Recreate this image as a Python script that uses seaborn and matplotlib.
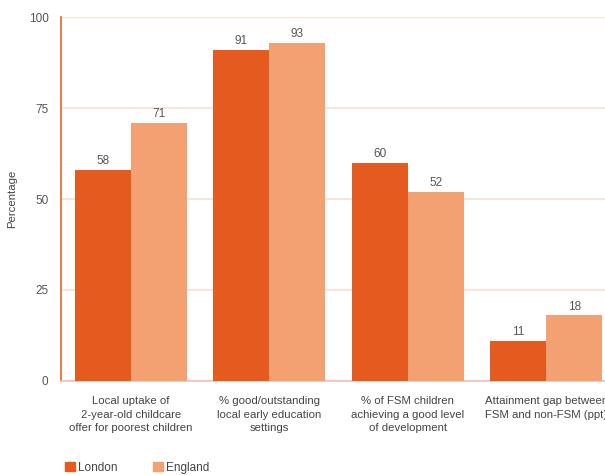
import matplotlib
matplotlib.use("Agg")
import matplotlib.pyplot as plt
import seaborn as sns
import pandas as pd

categories = [
    "Local uptake of\n2-year-old childcare\noffer for poorest children",
    "% good/outstanding\nlocal early education\nsettings",
    "% of FSM children\nachieving a good level\nof development",
    "Attainment gap between\nFSM and non-FSM (ppt)",
]
london = [58, 91, 60, 11]
england = [71, 93, 52, 18]
series = ["London", "England"]
yticks = [0, 25, 50, 75, 100]

df = pd.DataFrame({
    "category": categories * 2,
    "region": [series[0]] * len(categories) + [series[1]] * len(categories),
    "value": london + england,
})

sns.set_theme(style="white")
plt.rcParams["font.family"] = ["Liberation Sans", "DejaVu Sans"]

fig = plt.figure(figsize=(6.05, 4.75), dpi=100)
ax = fig.add_axes([0.101, 0.198, 0.916, 0.766])

palette = {"London": "#E55B1F", "England": "#F3A173"}
sns.barplot(data=df, x="category", y="value", hue="region", palette=palette,
            width=0.81, saturation=1, ax=ax, legend=False, zorder=3,
            linewidth=0)

for cont in ax.containers:
    ax.bar_label(cont, fmt="%d", padding=2, fontsize=8.5, color="#555555")

ax.set_ylim(0, 100)
ax.set_xlim(-0.506, 3.5)
ax.set_yticks(yticks)
ax.set_yticklabels([str(t) for t in yticks])
ax.yaxis.grid(True, color="#FCE3D7", linewidth=1.5, zorder=0)
ax.set_axisbelow(True)
ax.tick_params(axis="y", length=0, pad=9, labelsize=8.5, labelcolor="#555555")
ax.tick_params(axis="x", length=0, pad=11, labelsize=8.2, labelcolor="#444444")
for lbl in ax.get_xticklabels():
    lbl.set_linespacing(1.45)
ax.set_xlabel("")
ax.set_ylabel("Percentage", fontsize=8.2, color="#444444", labelpad=8)

for s in ["top", "right"]:
    ax.spines[s].set_visible(False)
ax.spines["left"].set_color("#E8632A")
ax.spines["left"].set_linewidth(1.2)
ax.spines["bottom"].set_color("#F0C2AA")
ax.spines["bottom"].set_linewidth(1.2)

handles = [plt.Rectangle((0, 0), 1, 1, color=palette[s]) for s in series]
fig.legend(handles, series, loc="lower left", bbox_to_anchor=(0.09, -0.02),
           ncol=2, frameon=False, fontsize=8.5, handlelength=0.85, handleheight=0.85,
           handletextpad=0.25, columnspacing=3.0, labelcolor="#444444")

fig.savefig("out.png", dpi=100)
